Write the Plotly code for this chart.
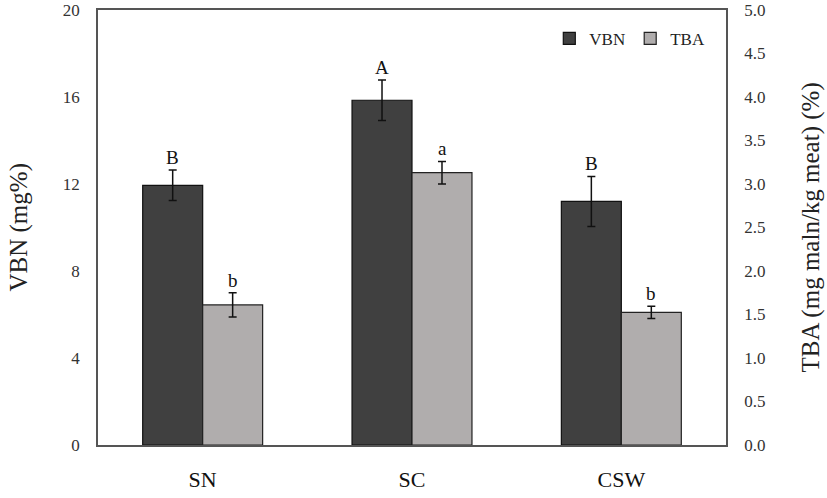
import plotly.graph_objects as go

categories = ["SN", "SC", "CSW"]
vbn = [11.94, 15.85, 11.2]
vbn_err = [0.70, 0.93, 1.15]
tba = [1.61, 3.13, 1.525]
tba_err = [0.14, 0.13, 0.07]
vbn_letters = ["B", "A", "B"]
tba_letters = ["b", "a", "b"]

serif = "Liberation Serif, Times New Roman, serif"

fig = go.Figure()
fig.add_trace(go.Bar(
    x=categories, y=vbn, name="VBN", yaxis="y", offsetgroup="1",
    marker=dict(color="#404040", line=dict(color="#111111", width=1.2)),
    error_y=dict(type="data", array=vbn_err, color="#111111", thickness=1.5, width=4),
))
fig.add_trace(go.Bar(
    x=categories, y=tba, name="TBA", yaxis="y2", offsetgroup="2",
    marker=dict(color="#b0adad", line=dict(color="#222222", width=1.2)),
    error_y=dict(type="data", array=tba_err, color="#111111", thickness=1.5, width=4),
))

annotations = []
for i, c in enumerate(categories):
    annotations.append(dict(x=c, y=vbn[i] + vbn_err[i], xref="x", yref="y", text=vbn_letters[i],
                            showarrow=False, yanchor="bottom", xshift=-30, yshift=0,
                            font=dict(family=serif, size=19, color="#111111")))
    annotations.append(dict(x=c, y=tba[i] + tba_err[i], xref="x", yref="y2", text=tba_letters[i],
                            showarrow=False, yanchor="bottom", xshift=30, yshift=0,
                            font=dict(family=serif, size=19, color="#111111")))

annotations.append(dict(x=0, y=0.5, xref="paper", yref="paper", text="VBN (mg%)",
                        textangle=-90, showarrow=False, xanchor="center", yanchor="middle",
                        xshift=-80, font=dict(family=serif, size=25, color="#222222")))
annotations.append(dict(x=1, y=0.5, xref="paper", yref="paper", text="TBA (mg maln/kg meat) (%)",
                        textangle=-90, showarrow=False, xanchor="center", yanchor="middle",
                        xshift=84, font=dict(family=serif, size=25, color="#222222")))

fig.update_layout(
    width=827, height=498,
    margin=dict(l=98, r=101, t=10, b=53),
    paper_bgcolor="white", plot_bgcolor="white",
    barmode="group", bargap=0.427, bargroupgap=0,
    font=dict(family=serif, color="#222222"),
    showlegend=True,
    legend=dict(orientation="h", x=0.975, y=0.975, xanchor="right", yanchor="top",
                font=dict(family=serif, size=17, color="#222222"),
                bgcolor="rgba(0,0,0,0)", itemwidth=30, traceorder="normal"),
    xaxis=dict(showline=True, linecolor="#555555", linewidth=1.5, mirror=True,
               ticks="", tickfont=dict(family=serif, size=22, color="#111111"),
               showgrid=False, automargin=False, ticklabelstandoff=14),
    yaxis=dict(range=[0, 20], tickvals=[0, 4, 8, 12, 16, 20], showgrid=False,
               showline=True, linecolor="#555555", linewidth=1.5, ticks="",
               tickfont=dict(family=serif, size=17, color="#333333"),
               zeroline=False, automargin=False, ticklabelstandoff=13),
    yaxis2=dict(range=[0, 5], tickvals=[0, 0.5, 1, 1.5, 2, 2.5, 3, 3.5, 4, 4.5, 5],
                tickformat=".1f", overlaying="y", side="right", showgrid=False,
                showline=True, linecolor="#555555", linewidth=1.5, ticks="",
                tickfont=dict(family=serif, size=17, color="#333333"),
                zeroline=False, automargin=False, ticklabelstandoff=13),
    annotations=annotations,
)

fig.write_html("out.html", config={"displayModeBar": False},
               post_script="document.body.style.margin='0';document.body.style.overflow='hidden';")
